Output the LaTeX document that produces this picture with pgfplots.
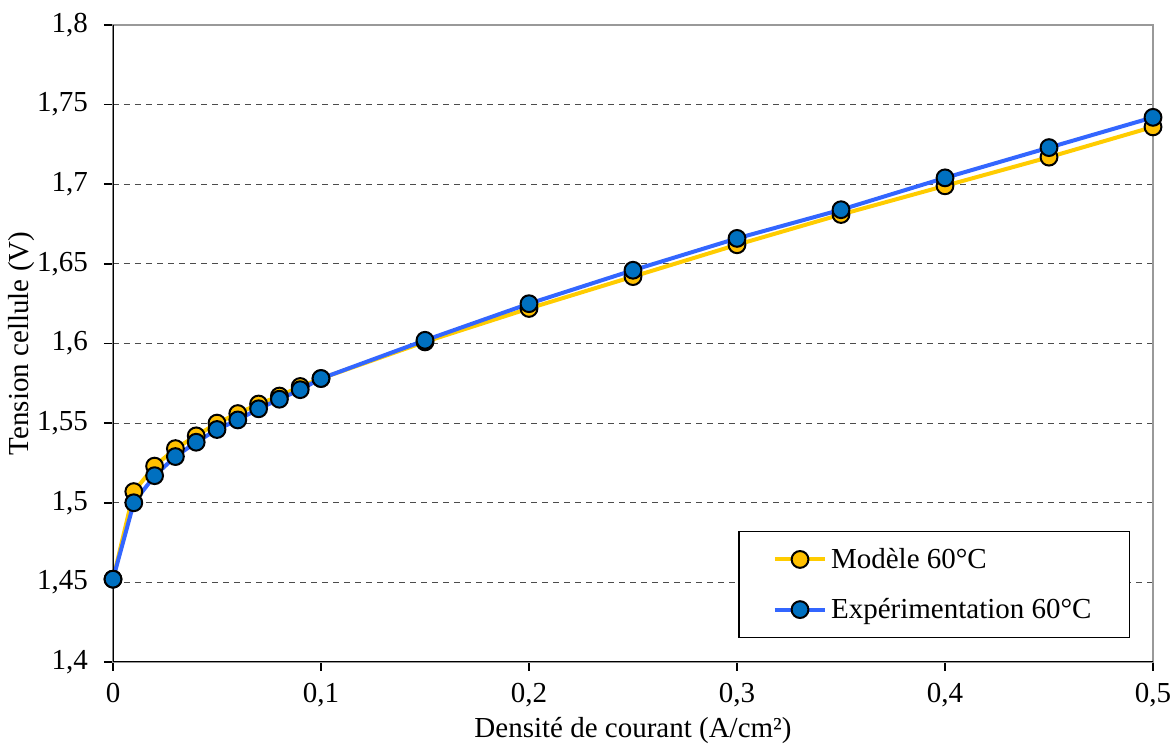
\documentclass[border=0pt]{standalone}
\usepackage{fontspec}
\setmainfont{Liberation Serif}
\usepackage{pgfplots}
\pgfplotsset{compat=1.18}
\definecolor{yline}{HTML}{FFCC00}
\definecolor{yfill}{HTML}{FFC000}
\definecolor{bline}{HTML}{3366FF}
\definecolor{bfill}{HTML}{0070C0}
\begin{document}
\begin{tikzpicture}[font=\fontsize{14.5}{17}\selectfont]
\begin{axis}[
  scale only axis,
  width=520pt, height=318.5pt,
  xmin=0, xmax=0.5, ymin=1.4, ymax=1.8,
  xtick={0,0.1,0.2,0.3,0.4,0.5},
  ytick={1.4,1.45,1.5,1.55,1.6,1.65,1.7,1.75,1.8},
  xtick pos=bottom, ytick pos=left,
  tick align=outside,
  major tick length=4.5pt,
  tick style={black, line width=0.8pt},
  /pgf/number format/assume math mode=true,
  /pgf/number format/use comma,
  /pgf/number format/fixed,
  /pgf/number format/precision=2,
  yticklabel style={xshift=-4.5pt},
  xticklabel style={yshift=-2.5pt},
  axis line style={gray!80, line width=0.8pt},
  ymajorgrids,
  major grid style={black!70, dash pattern=on 3pt off 2.5pt, line width=0.6pt},
  xlabel={Densité de courant (A/cm²)},
  ylabel={Tension cellule (V)},
  xlabel style={at={(axis description cs:0.5,-0.1068)}, anchor=center},
  ylabel style={at={(axis description cs:-0.0875,0.5)}, anchor=center},
  legend style={at={(0.978,0.038)}, anchor=south east, draw=black, line width=0.6pt,
    inner xsep=17pt, inner ysep=6pt, row sep=9.5pt, font=\fontsize{14.5}{17}\selectfont},
  legend cell align=left,
  legend image code/.code={\draw[mark repeat=2,mark phase=2,#1] plot coordinates {(0cm,0cm) (0.44cm,0cm) (0.88cm,0cm)};},
]
\addplot[yline, line width=2pt, mark=*, mark size=4.2pt,
  mark options={fill=yfill, draw=black, line width=1pt}] coordinates {
(0,1.452) (0.01,1.507) (0.02,1.523) (0.03,1.534) (0.04,1.542) (0.05,1.550)
(0.06,1.556) (0.07,1.562) (0.08,1.567) (0.09,1.573) (0.1,1.578)
(0.15,1.601) (0.2,1.622) (0.25,1.642) (0.3,1.662) (0.35,1.681)
(0.4,1.699) (0.45,1.717) (0.5,1.736)};
\addlegendentry{Modèle 60°C}
\addplot[bline, line width=2pt, mark=*, mark size=4.2pt,
  mark options={fill=bfill, draw=black, line width=1pt}] coordinates {
(0,1.452) (0.01,1.500) (0.02,1.517) (0.03,1.529) (0.04,1.538) (0.05,1.546)
(0.06,1.552) (0.07,1.559) (0.08,1.565) (0.09,1.571) (0.1,1.578)
(0.15,1.602) (0.2,1.625) (0.25,1.646) (0.3,1.666) (0.35,1.684)
(0.4,1.704) (0.45,1.723) (0.5,1.742)};
\addlegendentry{Expérimentation 60°C}
\draw[black, line width=1pt] (rel axis cs:0,1) -- (rel axis cs:0,0) -- (rel axis cs:1,0);
\coordinate (sw) at (rel axis cs:0,0);
\coordinate (ne) at (rel axis cs:1,1);
\end{axis}
\pgfresetboundingbox
\path[use as bounding box] ([xshift=-56.5pt,yshift=-42.5pt]sw) rectangle ([xshift=11pt,yshift=12.5pt]ne);
\end{tikzpicture}
\end{document}
